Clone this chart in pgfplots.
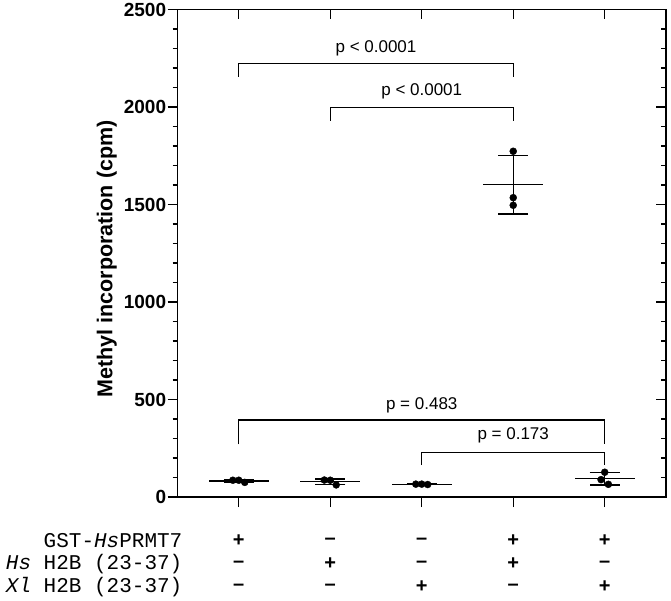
\documentclass[border=0pt]{standalone}
\usepackage{fontspec}
\setmainfont{Liberation Sans}
\newfontfamily\monofont{Liberation Mono}
\usepackage{pgfplots}
\pgfplotsset{compat=1.18}

% 1px of the reference = 1pt here
\pgfplotsset{
  frame/.style={
    at={(177.5pt,103pt)}, anchor=south west,
    scale only axis, width=488.5pt, height=487.5pt,
    xmin=0.33, xmax=5.67, ymin=0, ymax=2500,
    xtick={1,2,3,4,5}, xticklabels={},
    ytick={0,500,...,2500}, minor y tick num=4,
    major tick length=10pt, minor tick length=5pt,
    axis line style={line width=1.5pt},
    tick style={line width=1.4pt, black},
  },
}
\tikzset{
  sg/.style={font=\fontsize{20}{22}\selectfont\bfseries, inner sep=0pt},
  cond/.style={font=\monofont\fontsize{21}{24}\selectfont, anchor=east, inner sep=0pt},
  pval/.style={font=\fontsize{17}{20}\selectfont},
}

\begin{document}
\begin{tikzpicture}
\path[use as bounding box] (0,0) rectangle (671pt,600pt);

% top and right edges: ticks point inwards
\begin{axis}[frame,
  axis x line*=top, axis y line*=right,
  tick align=inside, yticklabels={},
]
\end{axis}

\begin{axis}[frame,
  xtick pos=left, ytick pos=left,
  tick align=outside,
  yticklabel style={font=\fontsize{19}{21}\selectfont\bfseries, inner sep=1.2pt},
  /pgf/number format/assume math mode=true,
  /pgf/number format/1000 sep={},
  clip=false,
]
  % individual values
  \addplot[only marks, mark=*, mark size=3.5pt, black] coordinates {
    (0.935,86) (1.0,86) (1.065,75)
    (1.935,87) (2.0,86) (2.065,62)
    (2.935,66) (3.0,66) (3.065,64)
    (4.0,1773) (4.0,1535) (4.0,1496)
    (4.96,89) (5.0,127) (5.04,65)
  };
  % means
  \addplot[draw=none, mark=none, forget plot,
    error bars/.cd, x dir=both, x fixed=0.33, error mark=none,
    error bar style={draw=black, line width=1.5pt}]
    coordinates {(1,82.3) (2,78.3) (3,65.3) (4,1601.3) (5,93.7)};
  % SD
  \addplot[draw=none, mark=none, forget plot,
    error bars/.cd, y dir=both, y explicit, error mark=|,
    error bar style={draw=black, line width=1.4pt},
    error mark options={draw=black, line width=1.4pt, mark size=15pt}]
    coordinates {
      (1,82.3) +- (0,6.4)
      (2,78.3) +- (0,14.2)
      (3,65.3) +- (0,1.2)
      (4,1601.3) +- (0,150)
      (5,93.7) +- (0,31.3)
    };

  % significance brackets
  \addplot[black, line width=1.3pt] coordinates {(1,2155) (1,2224) (4,2224) (4,2155)};
  \addplot[black, line width=1.3pt] coordinates {(2,1930) (2,1998) (4,1998) (4,1930)};
  \addplot[black, line width=1.3pt] coordinates {(1,270) (1,395) (5,395) (5,270)};
  \addplot[black, line width=1.3pt] coordinates {(3,164) (3,229) (5,229) (5,164)};
  \node[pval] at (axis cs:2.5,2301) {p < 0.0001};
  \node[pval] at (axis cs:3,2078) {p < 0.0001};
  \node[pval] at (axis cs:3,472) {p = 0.483};
  \node[pval] at (axis cs:4,318) {p = 0.173};

  % condition table under the axis
  \node[cond] at (axis cs:0.385,-225.6) {GST-\textit{Hs}PRMT7};
  \node[cond] at (axis cs:0.385,-343.6) {\textit{Hs} H2B (23-37)};
  \node[cond] at (axis cs:0.385,-461.5) {\textit{Xl} H2B (23-37)};

  \node[sg] at (axis cs:1,-225.6) {+};
  \node[sg] at (axis cs:2,-225.6) {–};
  \node[sg] at (axis cs:3,-225.6) {–};
  \node[sg] at (axis cs:4,-225.6) {+};
  \node[sg] at (axis cs:5,-225.6) {+};
  \node[sg] at (axis cs:1,-343.6) {–};
  \node[sg] at (axis cs:2,-343.6) {+};
  \node[sg] at (axis cs:3,-343.6) {–};
  \node[sg] at (axis cs:4,-343.6) {+};
  \node[sg] at (axis cs:5,-343.6) {–};
  \node[sg] at (axis cs:1,-461.5) {–};
  \node[sg] at (axis cs:2,-461.5) {–};
  \node[sg] at (axis cs:3,-461.5) {+};
  \node[sg] at (axis cs:4,-461.5) {–};
  \node[sg] at (axis cs:5,-461.5) {+};
\end{axis}

\node[rotate=90, font=\fontsize{21.5}{24}\selectfont\bfseries] at (106.7pt,341pt)
  {Methyl incorporation (cpm)};
\end{tikzpicture}
\end{document}
